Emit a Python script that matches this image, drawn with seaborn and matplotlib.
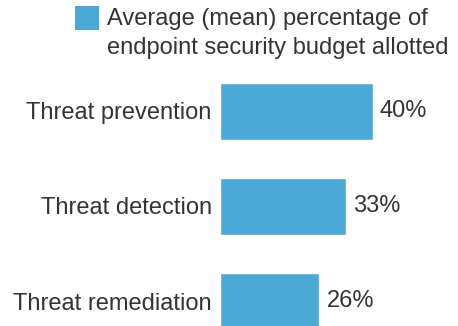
import matplotlib
matplotlib.use("Agg")
import matplotlib.pyplot as plt
from matplotlib.patches import Rectangle
import seaborn as sns
import pandas as pd

categories = ["Threat prevention", "Threat detection", "Threat remediation"]
values = [40, 33, 26]
series_label = "Average (mean) percentage of\nendpoint security budget allotted"

bar_color = "#4ca9d7"
text_color = "#333333"

sns.set_style("white")
plt.rcParams["font.family"] = ["Liberation Sans", "DejaVu Sans"]

df = pd.DataFrame({"Category": categories, "Value": values})

fig = plt.figure(figsize=(4.58, 3.26), dpi=100)
ax = fig.add_axes([220 / 458, 0.0, 238 / 458, 1 - 63.5 / 326])

sns.barplot(data=df, x="Value", y="Category", color=bar_color, width=0.6,
            saturation=1, ax=ax)

ax.set_xlim(0, 238 / 3.825)
ax.set_ylim((326 - 111) / 95, -0.5)
ax.set_xlabel("")
ax.set_ylabel("")
ax.set_xticks([])
ax.tick_params(axis="y", length=0, pad=6, labelsize=17, labelcolor=text_color)
sns.despine(ax=ax, left=True, bottom=True)

ax.bar_label(ax.containers[0], labels=[f"{v}%" for v in values], padding=5,
             fontsize=17, color=text_color)

# legend: square aligned to the first line of a two-line label
fig.patches.append(Rectangle((75 / 458, 1 - 30 / 326), 24 / 458, 24 / 326,
                             transform=fig.transFigure, facecolor=bar_color,
                             edgecolor="none"))
# va="baseline" anchors the last line's baseline
fig.text(107 / 458, 1 - 54 / 326, series_label, ha="left", va="baseline",
         fontsize=17, color=text_color, linespacing=1.42)

fig.savefig("out.png", dpi=100)
